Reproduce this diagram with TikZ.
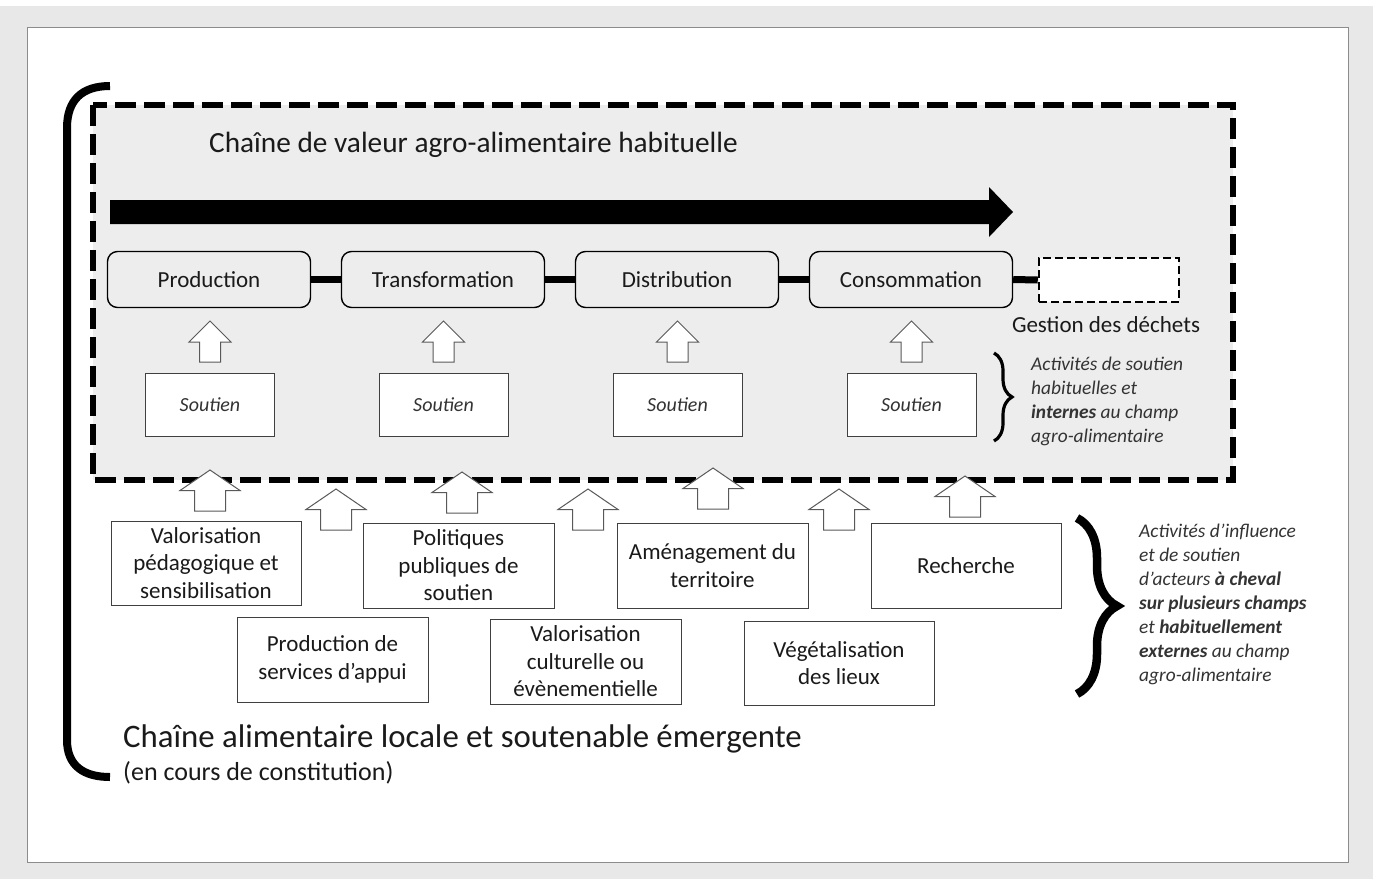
\documentclass[tikz,border=0pt]{standalone}
\usepackage{fontspec}
\setmainfont{Carlito}
\usetikzlibrary{decorations.pathreplacing}
\definecolor{outerbg}{HTML}{E8E8E8}
\definecolor{framecol}{HTML}{8C8C8C}
\definecolor{panel}{HTML}{EDEDED}
\definecolor{boxline}{HTML}{404040}
\definecolor{arrgray}{HTML}{595959}
\definecolor{txt}{HTML}{1A1A1A}
\definecolor{itxt}{HTML}{333333}
\tikzset{
  arrline/.style={draw=arrgray, fill=white, line width=1pt, line join=miter},
  smallup/.pic={\draw[arrline] (0,0) -- (21,21) -- (10.5,21) -- (10.5,41) -- (-10.5,41) -- (-10.5,21) -- (-21,21) -- cycle;},
  bigup/.pic={\draw[arrline] (0,0) -- (30,20.5) -- (15.5,20.5) -- (15.5,41) -- (-15.5,41) -- (-15.5,20.5) -- (-30,20.5) -- cycle;},
  rbox/.style={draw=black, line width=1.4pt, rounded corners=10pt, fill=panel, minimum width=203pt, minimum height=56pt, inner sep=0pt, text=txt, font=\fontsize{23}{27}\selectfont},
  sbox/.style={draw=boxline, line width=1pt, fill=white, minimum width=129pt, minimum height=63pt, inner sep=0pt, text=itxt, font=\fontsize{20}{24}\selectfont\itshape},
  obox/.style={draw=boxline, line width=1pt, fill=white, minimum width=190pt, minimum height=85pt, align=center, inner sep=0pt, text=txt, font=\fontsize{23}{27.5}\selectfont},
  chainlink/.style={line width=7pt, draw=black},
  notetext/.style={align=left, inner sep=0pt, text=itxt, font=\fontsize{19.4}{24}\selectfont\itshape},
}
\begin{document}
\begin{tikzpicture}[x=1pt,y=-1pt]
\useasboundingbox (0,0) rectangle (1373,879);
% background and frame
\fill[outerbg] (0,0) rectangle (1373,879);
\fill[white] (0,0) rectangle (1373,6);
\draw[framecol, fill=white, line width=1pt] (27,27) rectangle (1348,862);

% dashed panel
\draw[black, fill=panel, line width=6pt, dash pattern=on 21pt off 8pt] (93,105) rectangle (1233,480);

% big bracket
\draw[black, line width=8pt] (110,86) .. controls (82,86) and (67,100) .. (67,128) -- (67,740) .. controls (67,766) and (84,777) .. (110,777);

% title
\node[anchor=west, inner sep=0pt, text=txt, font=\fontsize{29.3}{33}\selectfont] (title) at (209,145) {Chaîne de valeur agro-alimentaire habituelle};

% big arrow
\fill[black] (110,200) -- (989,200) -- (989,187) -- (1013,212) -- (989,237) -- (989,224) -- (110,224) -- cycle;

% chain boxes
\node[rbox] (prod) at (209,279.5) {Production};
\node[rbox] (trans) at (443,279.5) {Transformation};
\node[rbox] (dist) at (677,279.5) {Distribution};
\node[rbox] (cons) at (911,279.5) {Consommation};
\node[draw=black, fill=white, line width=2.5pt, dash pattern=on 8pt off 4pt, minimum width=140pt, minimum height=44pt, inner sep=0pt] (gest) at (1109,280) {};
\draw[chainlink] (prod.east) -- (trans.west);
\draw[chainlink] (trans.east) -- (dist.west);
\draw[chainlink] (dist.east) -- (cons.west);
\draw[chainlink] (cons.east) -- (gest.west);
\node[inner sep=0pt, text=txt, font=\fontsize{23}{27}\selectfont] (gestlabel) at (1106,325) {Gestion des déchets};

% support boxes
\node[sbox] (s1) at (210,404.5) {Soutien};
\node[sbox] (s2) at (443.5,404.5) {Soutien};
\node[sbox] (s3) at (677.5,404.5) {Soutien};
\node[sbox] (s4) at (911.5,404.5) {Soutien};
\pic at (210,321) {smallup};
\pic at (443.5,321) {smallup};
\pic at (677.5,321) {smallup};
\pic at (911.5,321) {smallup};

% small brace and note
\draw[black, line width=3.2pt, decorate, decoration={brace, amplitude=18pt}] (994,353) -- (994,441);
\node[notetext, anchor=west] (note1) at (1031,401) {Activités de soutien\\habituelles et\\\textbf{internes} au champ\\agro-alimentaire};

% bottom arrows (over the dashed border)
\pic at (210,470) {bigup};
\pic at (336,489) {bigup};
\pic at (462,472) {bigup};
\pic at (588,489) {bigup};
\pic at (713,468) {bigup};
\pic at (839,489) {bigup};
\pic at (965,476) {bigup};

% outer boxes
\node[obox, minimum height=84pt] (valp) at (206,563) {Valorisation\\pédagogique et\\sensibilisation};
\node[obox, minimum width=191pt] (pol) at (458.5,565.5) {Politiques\\publiques de\\soutien};
\node[obox, minimum width=191pt] (amen) at (712.5,565.5) {Aménagement du\\territoire};
\node[obox] (rech) at (966,565.5) {Recherche};
\node[obox, minimum width=191pt] (serv) at (332.5,659.5) {Production de\\services d’appui};
\node[obox, minimum width=191pt] (valc) at (585.5,661.5) {Valorisation\\culturelle ou\\évènementielle};
\node[obox, minimum height=84pt] (veg) at (839,663) {Végétalisation\\des lieux};

% big brace and note
\draw[black, line width=8.5pt, decorate, decoration={brace, amplitude=40pt}] (1077,518) -- (1077,694);
\node[notetext, anchor=west] (note2) at (1139,604) {Activités d’influence\\et de soutien\\d’acteurs \textbf{à cheval}\\\textbf{sur plusieurs champs}\\et \textbf{habituellement}\\\textbf{externes} au champ\\agro-alimentaire};

% bottom labels
\node[anchor=west, inner sep=0pt, text=txt, font=\fontsize{32.8}{36}\selectfont] (emerg) at (123,739) {Chaîne alimentaire locale et soutenable émergente};
\node[anchor=west, inner sep=0pt, text=txt, font=\fontsize{26}{30}\selectfont] (constit) at (123,773) {(en cours de constitution)};
\end{tikzpicture}
\end{document}
